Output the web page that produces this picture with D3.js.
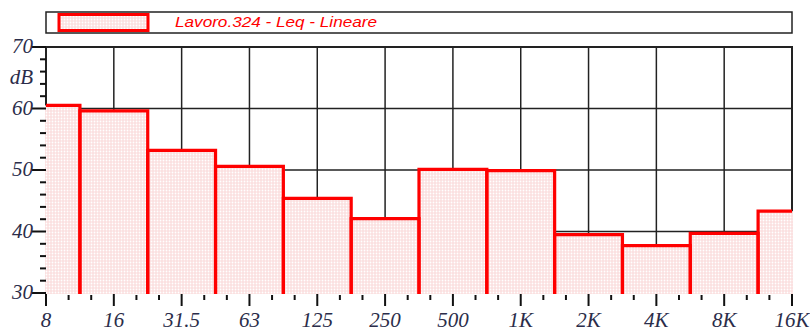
<!DOCTYPE html>
<html>
<head>
<meta charset="utf-8">
<script src="https://cdn.jsdelivr.net/npm/d3@7"></script>
<style>
  body { margin: 0; background: #fff; }
  .tick-label { font-family: "Liberation Serif", "Times New Roman", serif; font-style: italic; fill: #2b2d4a; }
</style>
</head>
<body>
<script>
// octave bands and Leq levels (dB)
var bands = ["8", "16", "31.5", "63", "125", "250", "500", "1K", "2K", "4K", "8K", "16K"];
var levels = [60.5, 59.6, 53.2, 50.6, 45.4, 42.1, 50.1, 49.9, 39.5, 37.7, 39.7, 43.3];
var yTicks = [30, 40, 50, 60, 70];
var gridLevels = [40, 50, 60];
var seriesName = "Lavoro.324 - Leq - Lineare";

var width = 810, height = 331;
var plotLeft = 46, plotRight = 792, plotTop = 47, plotBottom = 293;

var svg = d3.select("body").append("svg")
    .attr("width", width)
    .attr("height", height);

var defs = svg.append("defs");
var pat = defs.append("pattern")
    .attr("id", "dots")
    .attr("width", 3).attr("height", 3)
    .attr("patternUnits", "userSpaceOnUse");
pat.append("rect").attr("width", 3).attr("height", 3).attr("fill", "#fbdfdf");
pat.append("circle").attr("cx", 1.5).attr("cy", 1.5).attr("r", 0.9).attr("fill", "#fff");

// x in octave index units, y in dB
var x = d3.scaleLinear().domain([0, bands.length - 1]).range([plotLeft, plotRight]);
var y = d3.scaleLinear().domain([30, 70]).range([plotBottom, plotTop]);

// legend
svg.append("rect")
    .attr("x", 46).attr("y", 12).attr("width", 746).attr("height", 21)
    .attr("fill", "#fff").attr("stroke", "#222").attr("stroke-width", 1.5);
svg.append("rect")
    .attr("x", 59).attr("y", 14.5).attr("width", 89).attr("height", 16)
    .attr("fill", "url(#dots)").attr("stroke", "#f00").attr("stroke-width", 3);
svg.append("text")
    .attr("x", 175).attr("y", 27)
    .attr("font-family", "Liberation Sans, Arial, sans-serif")
    .attr("font-style", "italic")
    .attr("font-size", 15)
    .attr("fill", "#f00")
    .attr("textLength", 202)
    .attr("lengthAdjust", "spacingAndGlyphs")
    .text(seriesName);

// frame and grid
svg.append("rect")
    .attr("x", plotLeft).attr("y", plotTop)
    .attr("width", plotRight - plotLeft).attr("height", plotBottom - plotTop)
    .attr("fill", "#fff").attr("stroke", "#222").attr("stroke-width", 2);

svg.append("g").selectAll("line")
    .data(d3.range(1, bands.length - 1))
    .enter().append("line")
    .attr("x1", d => x(d)).attr("x2", d => x(d))
    .attr("y1", plotTop).attr("y2", plotBottom)
    .attr("stroke", "#222").attr("stroke-width", 1.5);

svg.append("g").selectAll("line")
    .data(gridLevels)
    .enter().append("line")
    .attr("x1", plotLeft).attr("x2", plotRight)
    .attr("y1", d => y(d)).attr("y2", d => y(d))
    .attr("stroke", "#222").attr("stroke-width", 1.5);

// bars: one octave wide, centred on the band, cut at the frame
var bars = levels.map(function(v, i) {
  return {
    v: v,
    x0: x(Math.max(0, i - 0.5)),
    x1: x(Math.min(bands.length - 1, i + 0.5)),
    first: i == 0,
    last: i == bands.length - 1
  };
});

svg.append("g").selectAll("rect")
    .data(bars)
    .enter().append("rect")
    .attr("x", d => d.x0 - 1).attr("width", d => d.x1 - d.x0 + 2)
    .attr("y", d => y(d.v)).attr("height", d => plotBottom + 1 - y(d.v))
    .attr("fill", "url(#dots)");

svg.append("g").selectAll("path")
    .data(bars)
    .enter().append("path")
    .attr("d", function(d) {
      var p = "";
      if (d.first) p += "M" + d.x0 + "," + y(d.v);
      else p += "M" + d.x0 + "," + (plotBottom + 1) + "V" + y(d.v);
      p += "H" + d.x1;
      if (!d.last) p += "V" + (plotBottom + 1);
      return p;
    })
    .attr("fill", "none").attr("stroke", "#f00").attr("stroke-width", 3.2);

// y axis ticks
var yAxis = svg.append("g");
yAxis.selectAll("line.minor")
    .data(d3.range(32, 70, 2).filter(d => d % 10 != 0))
    .enter().append("line")
    .attr("x1", 40).attr("x2", plotLeft)
    .attr("y1", d => y(d)).attr("y2", d => y(d))
    .attr("stroke", "#111").attr("stroke-width", 2);
yAxis.selectAll("line.major")
    .data(yTicks)
    .enter().append("line")
    .attr("x1", 32).attr("x2", plotLeft)
    .attr("y1", d => y(d)).attr("y2", d => y(d))
    .attr("stroke", "#111").attr("stroke-width", 2);
yAxis.selectAll("text")
    .data(yTicks)
    .enter().append("text")
    .attr("class", "tick-label")
    .attr("x", 33).attr("y", d => y(d) + 6)
    .attr("text-anchor", "end")
    .attr("font-size", 21)
    .text(d => d);
svg.append("text")
    .attr("class", "tick-label")
    .attr("x", 33).attr("y", 84)
    .attr("text-anchor", "end")
    .attr("font-size", 21)
    .text("dB");

// x axis ticks (octaves and third octaves)
var xAxis = svg.append("g");
xAxis.selectAll("line.minor")
    .data(d3.range(0, (bands.length - 1) * 3).filter(d => d % 3 != 0))
    .enter().append("line")
    .attr("x1", d => x(d / 3)).attr("x2", d => x(d / 3))
    .attr("y1", plotBottom + 2).attr("y2", plotBottom + 7)
    .attr("stroke", "#111").attr("stroke-width", 2);
xAxis.selectAll("line.major")
    .data(bands)
    .enter().append("line")
    .attr("x1", (d, i) => x(i)).attr("x2", (d, i) => x(i))
    .attr("y1", plotBottom + 1).attr("y2", plotBottom + 13)
    .attr("stroke", "#111").attr("stroke-width", 2);
xAxis.selectAll("text")
    .data(bands)
    .enter().append("text")
    .attr("class", "tick-label")
    .attr("x", (d, i) => x(i)).attr("y", 327)
    .attr("text-anchor", "middle")
    .attr("font-size", 21)
    .text(d => d);
</script>
</body>
</html>
